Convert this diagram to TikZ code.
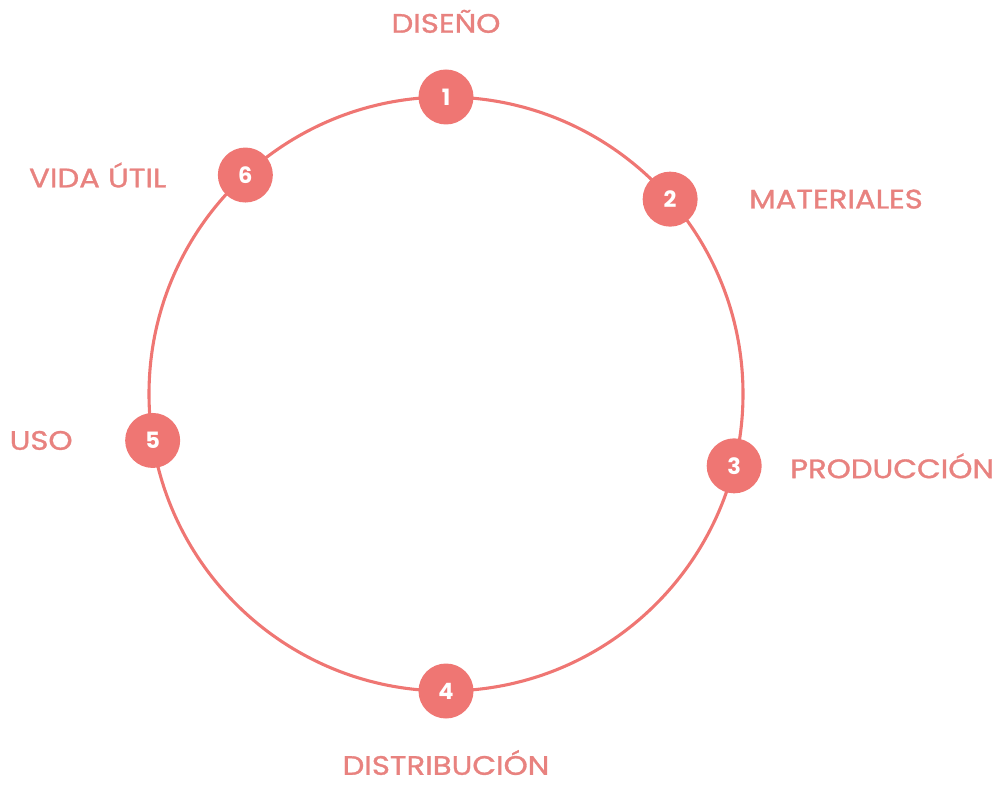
\documentclass[tikz,border=0pt]{standalone}
\usepackage{fontspec}
\setmainfont{Poppins}
\newfontfamily\labfont[FakeBold=1.2,FakeStretch=1.15]{Poppins}
\usetikzlibrary{positioning,calc}
\definecolor{coral}{HTML}{EF7673}
\definecolor{coraltext}{HTML}{E8827F}

\begin{document}
\begin{tikzpicture}[
    x=0.025cm, y=0.025cm,
    num/.style={circle, fill=coral, minimum size=55*0.025cm, inner sep=0pt,
                text=white, font=\fontsize{16}{16}\selectfont\bfseries},
    lab/.style={text=coraltext, inner sep=0pt, font=\labfont\fontsize{19}{19}\selectfont},
]
    \useasboundingbox (0,0) rectangle (998,784);
    \coordinate (c) at (446,390);
    \draw[coral, line width=2.2pt] (c) circle [radius=297];
    \node[num] (n1) at ($(c)+(90:297)$) {1};
    \node[num] (n2) at ($(c)+(41:297)$) {2};
    \node[num] (n3) at ($(c)+(-14:297)$) {3};
    \node[num] (n4) at ($(c)+(-90:297)$) {4};
    \node[num] (n5) at ($(c)+(189:297)$) {5};
    \node[num] (n6) at ($(c)+(132.5:297)$) {6};
    \node[lab, above=36*0.025cm of n1] (l1) {DISEÑO};
    \node[lab, right=51*0.025cm of n2] (l2) {MATERIALES};
    \node[lab, right=28*0.025cm of n3] (l3) {PRODUCCIÓN};
    \node[lab, below=31*0.025cm of n4] (l4) {DISTRIBUCIÓN};
    \node[lab, left=52*0.025cm of n5] (l5) {USO};
    \node[lab, left=51*0.025cm of n6] (l6) {VIDA ÚTIL};
\end{tikzpicture}
\end{document}
